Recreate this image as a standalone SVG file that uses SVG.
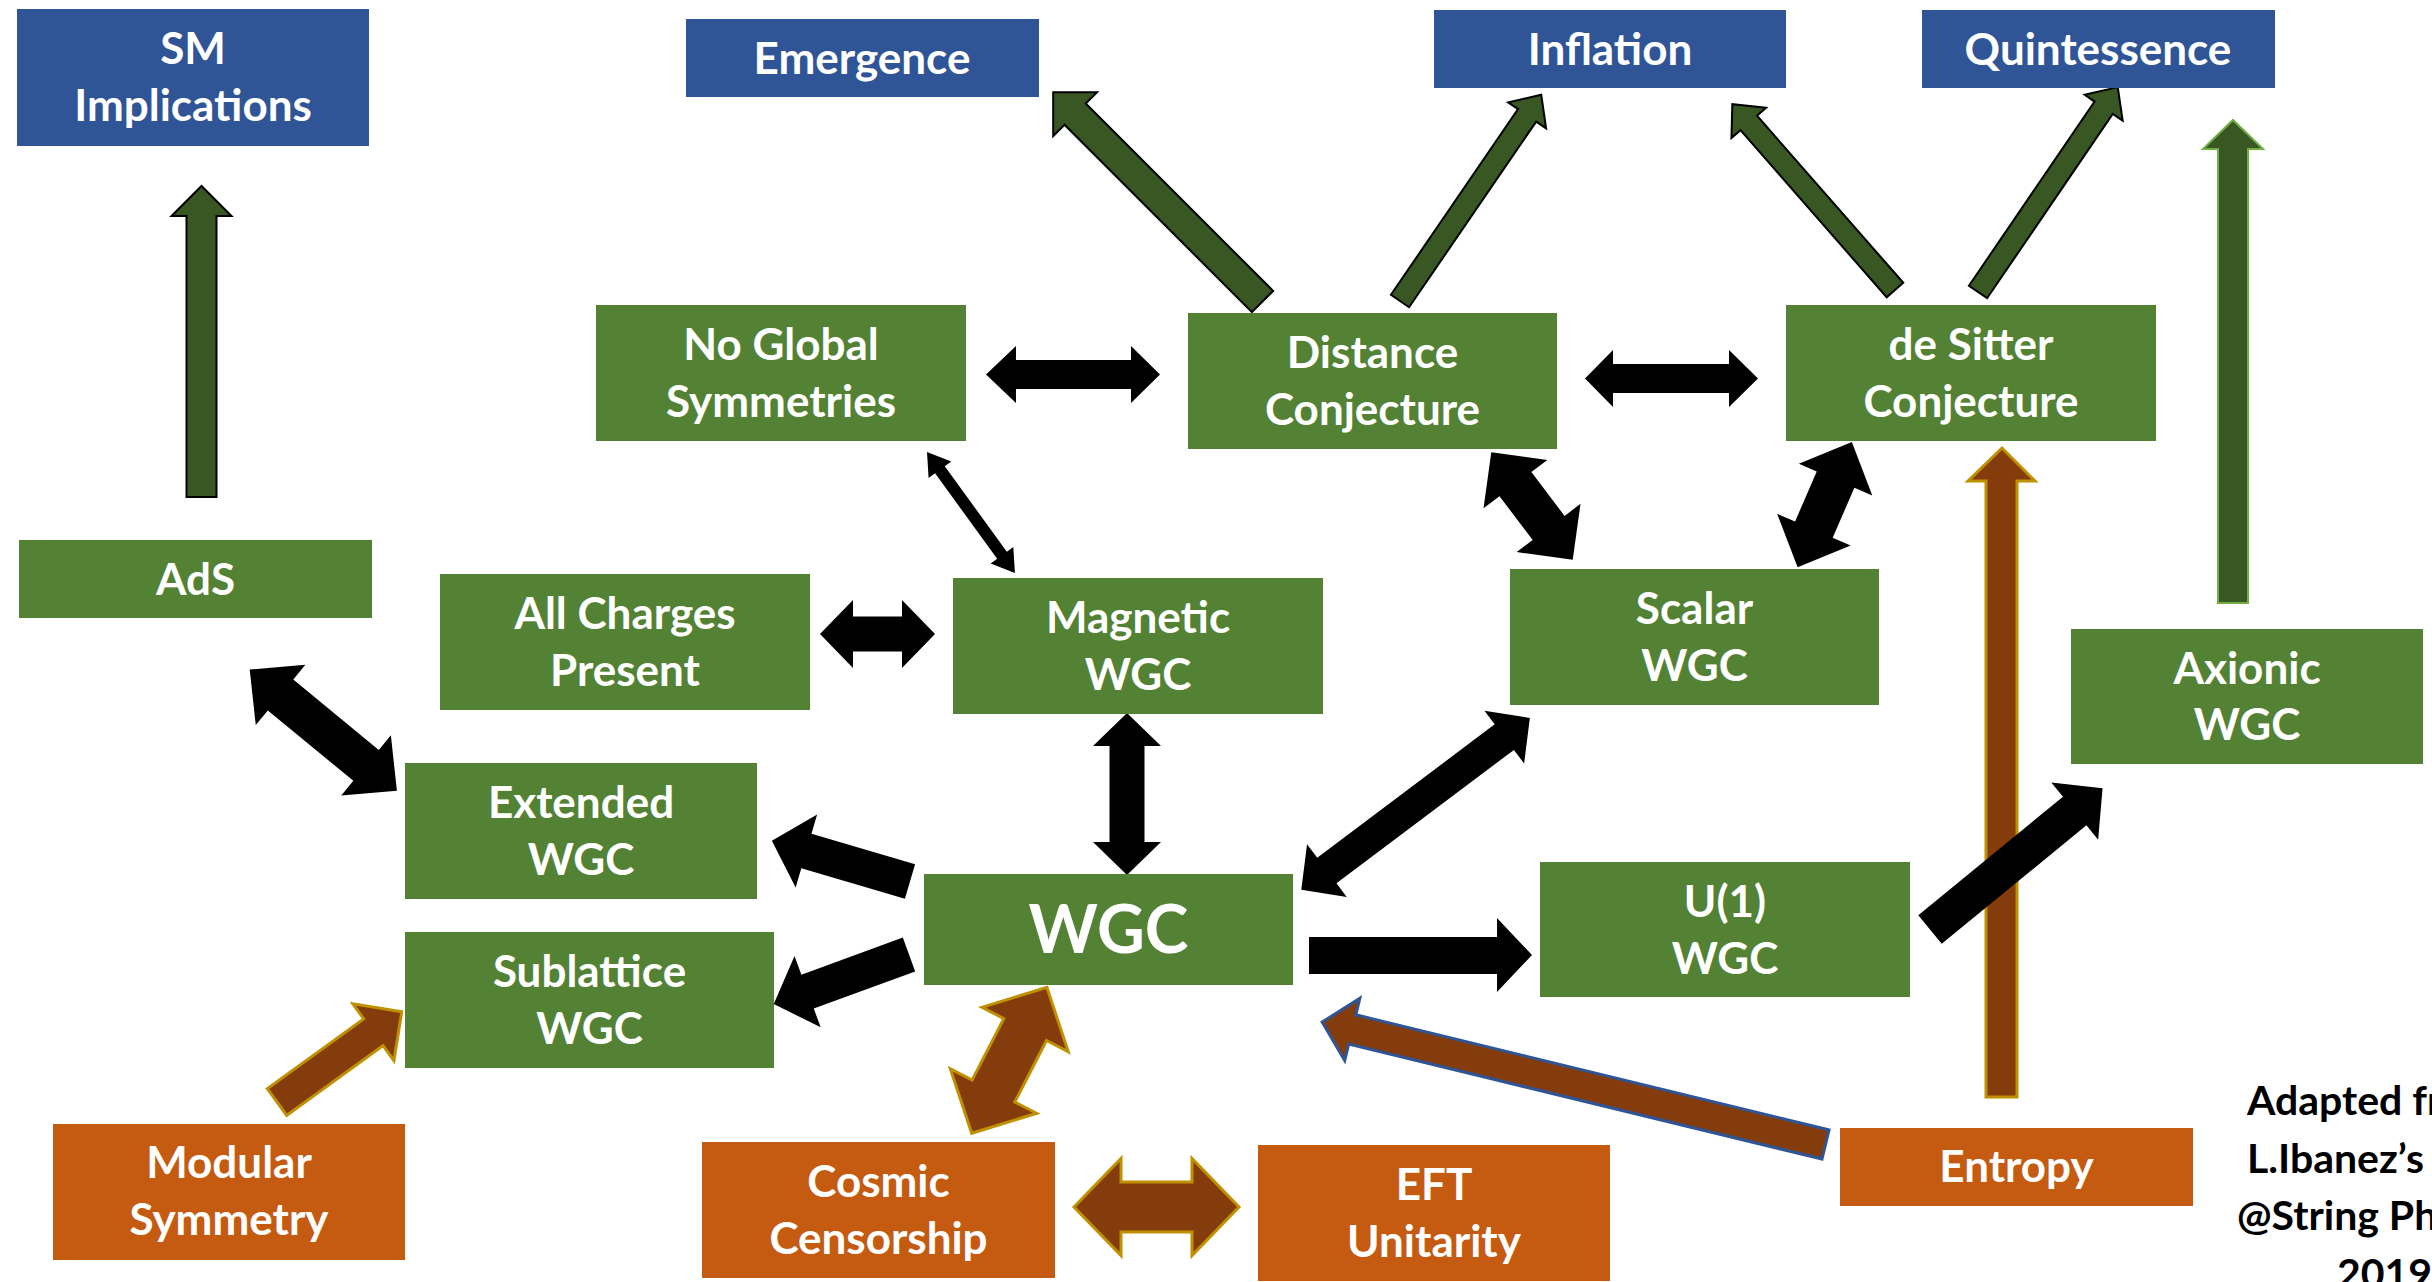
<svg xmlns="http://www.w3.org/2000/svg" width="2432" height="1282" viewBox="0 0 2432 1282">
<style>
.blue{fill:#2F5597}
.green{fill:#548235}
.orange{fill:#C55A11}
text{font-family:Lato,"Liberation Sans",sans-serif;font-weight:bold;fill:#fff;text-anchor:middle;font-size:44px}
.big{font-size:66px}
.note{fill:#000;text-anchor:start;font-size:41px}
.ga{fill:#385723;stroke:#000;stroke-width:2;stroke-linejoin:miter}
.ga2{fill:#385723;stroke:#70AD47;stroke-width:2}
.ba{fill:#843C0C;stroke:#BF9000;stroke-width:3}
.bb{fill:#843C0C;stroke:#2F5597;stroke-width:3}
.k{fill:#000}
</style>
<rect width="2432" height="1282" fill="#fff"/>
<g id="connectors">
<polygon class="ga" points="186.5,497 186.5,216 171.5,216 201.5,186 231.5,216 216.5,216 216.5,497"/>
<polygon class="ga" transform="translate(1262.5,301.5) rotate(-135)" points="0,-15 265,-15 265,-31 296,0 265,31 265,15 0,15"/>
<polygon class="ga" transform="translate(1400,301) rotate(-55.6)" points="0,-11 225,-11 225,-23 250,0 225,23 225,11 0,11"/>
<polygon class="ga" transform="translate(1895,290) rotate(-131.2)" points="0,-11 222,-11 222,-23 247,0 222,23 222,11 0,11"/>
<polygon class="ga" transform="translate(1978,292) rotate(-55.7)" points="0,-11 223,-11 223,-23 248,0 223,23 223,11 0,11"/>
<polygon class="ga2" points="2218,603 2218,149 2203,149 2233,120 2263,149 2248,149 2248,603"/>
<polygon class="ba" points="1986,1097 1986,481 1968,481 2002,448 2035,481 2017,481 2017,1097"/>
<polygon class="bb" transform="translate(1825.5,1144.5) rotate(-166.33)" points="0,-15 487,-15 487,-32 518,0 487,32 487,15 0,15"/>
<polygon class="ba" transform="translate(277,1102) rotate(-35.9)" points="0,-16.5 119,-16.5 119,-35 154,0 119,35 119,16.5 0,16.5"/>
<polygon class="ba" transform="translate(971.7,1133.3) rotate(-62.75)" points="0,0 47.5,-48.5 47.5,-24 116.7,-24 116.7,-48.5 164.2,0 116.7,48.5 116.7,24 47.5,24 47.5,48.5"/>
<polygon class="ba" points="1074,1207 1121,1158.5 1121,1182 1192,1182 1192,1158.5 1239,1207 1192,1255.5 1192,1232 1121,1232 1121,1255.5"/>
<polygon class="k" points="986,374.5 1016,346 1016,360 1131,360 1131,346 1160,374.5 1131,403 1131,389 1016,389 1016,403"/>
<polygon class="k" points="1585,378.5 1613,350 1613,364 1729,364 1729,350 1758,378.5 1729,407 1729,393 1613,393 1613,407"/>
<polygon class="k" points="820,634 853,600 853,616.5 902,616.5 902,600 935,634 902,668 902,651.5 853,651.5 853,668"/>
<polygon class="k" points="1127,713 1161,746 1144.5,746 1144.5,842 1161,842 1127,875 1093,842 1109.5,842 1109.5,746 1093,746"/>
<polygon class="k" transform="translate(927,452) rotate(54)" points="0,0 22,-14 22,-6 127.6,-6 127.6,-14 149.6,0 127.6,14 127.6,6 22,6 22,14"/>
<polygon class="k" transform="translate(249.7,669.5) rotate(39.5)" points="0,0 40,-39 40,-20 150.8,-20 150.8,-39 190.8,0 150.8,39 150.8,20 40,20 40,39"/>
<polygon class="k" transform="translate(1491.3,452.2) rotate(52.9)" points="0,0 40,-40 40,-20 95,-20 95,-40 135,0 95,40 95,20 40,20 40,40"/>
<polygon class="k" transform="translate(1797.6,567.3) rotate(-66.6)" points="0,0 41,-40 41,-20.5 95.6,-20.5 95.6,-40 136.6,0 95.6,40 95.6,20.5 41,20.5 41,40"/>
<polygon class="k" transform="translate(1301.3,889.8) rotate(-36.95)" points="0,0 32,-33 32,-16 254,-16 254,-33 286,0 254,33 254,16 32,16 32,33"/>
<polygon class="k" transform="translate(910,881.5) rotate(-163.6)" points="0,-18 108,-18 108,-38 144,0 108,38 108,18 0,18"/>
<polygon class="k" transform="translate(909,954.5) rotate(159.9)" points="0,-18 108,-18 108,-38 144,0 108,38 108,18 0,18"/>
<polygon class="k" points="1309,937 1497,937 1497,918 1532,955 1497,992 1497,974 1309,974"/>
<polygon class="k" transform="translate(1930,929.5) rotate(-39.3)" points="0,-18.5 187,-18.5 187,-37 223,0 187,37 187,18.5 0,18.5"/>
</g>
<g id="sm"><rect class="blue" x="17" y="9" width="352" height="137"/><text x="193" y="64">SM</text><text x="193" y="121">Implications</text></g>
<g id="emergence"><rect class="blue" x="686" y="19" width="353" height="78"/><text x="862" y="73.5">Emergence</text></g>
<g id="inflation"><rect class="blue" x="1434" y="10" width="352" height="78"/><text x="1610" y="64.5">Inflation</text></g>
<g id="quintessence"><rect class="blue" x="1922" y="10" width="353" height="78"/><text x="2098" y="64.5">Quintessence</text></g>
<g id="noglobal"><rect class="green" x="596" y="305" width="370" height="136"/><text x="781" y="360">No Global</text><text x="781" y="417">Symmetries</text></g>
<g id="distance"><rect class="green" x="1188" y="313" width="369" height="136"/><text x="1372.5" y="368">Distance</text><text x="1372.5" y="425">Conjecture</text></g>
<g id="desitter"><rect class="green" x="1786" y="305" width="370" height="136"/><text x="1971" y="360">de Sitter</text><text x="1971" y="417">Conjecture</text></g>
<g id="ads"><rect class="green" x="19" y="540" width="353" height="78"/><text x="195.5" y="594.5">AdS</text></g>
<g id="allcharges"><rect class="green" x="440" y="574" width="370" height="136"/><text x="625" y="629">All Charges</text><text x="625" y="686">Present</text></g>
<g id="magnetic"><rect class="green" x="953" y="578" width="370" height="136"/><text x="1138" y="633">Magnetic</text><text x="1138" y="690">WGC</text></g>
<g id="scalar"><rect class="green" x="1510" y="569" width="369" height="136"/><text x="1694.5" y="624">Scalar</text><text x="1694.5" y="681">WGC</text></g>
<g id="axionic"><rect class="green" x="2071" y="629" width="352" height="135"/><text x="2247" y="684">Axionic</text><text x="2247" y="740">WGC</text></g>
<g id="extended"><rect class="green" x="405" y="763" width="352" height="136"/><text x="581" y="818">Extended</text><text x="581" y="875">WGC</text></g>
<g id="sublattice"><rect class="green" x="405" y="932" width="369" height="136"/><text x="589.5" y="987">Sublattice</text><text x="589.5" y="1044">WGC</text></g>
<g id="wgc"><rect class="green" x="924" y="874" width="369" height="111"/><text class="big" x="1108.5" y="953">WGC</text></g>
<g id="u1"><rect class="green" x="1540" y="862" width="370" height="135"/><text x="1725" y="917">U(1)</text><text x="1725" y="974">WGC</text></g>
<g id="modular"><rect class="orange" x="53" y="1124" width="352" height="136"/><text x="229" y="1178">Modular</text><text x="229" y="1235">Symmetry</text></g>
<g id="cosmic"><rect class="orange" x="702" y="1142" width="353" height="136"/><text x="878.5" y="1197">Cosmic</text><text x="878.5" y="1254">Censorship</text></g>
<g id="eft"><rect class="orange" x="1258" y="1145" width="352" height="136"/><text x="1434" y="1200">EFT</text><text x="1434" y="1257">Unitarity</text></g>
<g id="entropy"><rect class="orange" x="1840" y="1128" width="353" height="78"/><text x="2016.5" y="1182">Entropy</text></g>
<g id="note"><text class="note" x="2247" y="1115">Adapted from</text><text class="note" x="2247" y="1173">L.Ibanez’s talk</text><text class="note" x="2237" y="1230">@String Pheno</text><text class="note" x="2337" y="1288">2019</text></g>
</svg>
